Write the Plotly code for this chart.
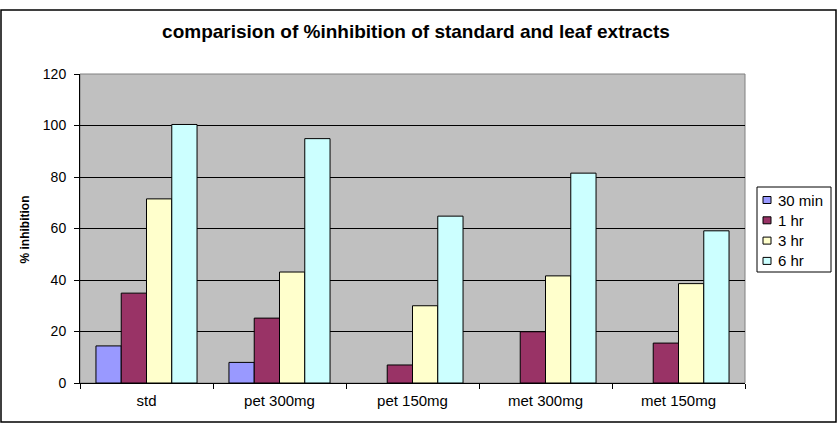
import plotly.graph_objects as go

categories = ["std", "pet 300mg", "pet 150mg", "met 300mg", "met 150mg"]
series_names = ["30 min", "1 hr", "3 hr", "6 hr"]
vals_30min = [14.4, 8.0, None, None, None]
vals_1hr = [34.9, 25.2, 7.0, 19.9, 15.5]
vals_3hr = [71.5, 43.1, 30.0, 41.6, 38.6]
vals_6hr = [100.4, 94.9, 64.8, 81.5, 59.1]
colors = ["#9999FF", "#993366", "#FFFFCC", "#CCFFFF"]
y_ticks = [0, 20, 40, 60, 80, 100, 120]

fig = go.Figure()
for name, vals, col in zip(series_names, [vals_30min, vals_1hr, vals_3hr, vals_6hr], colors):
    fig.add_trace(go.Bar(x=categories, y=vals, name=name, showlegend=False,
                         marker=dict(color=col, line=dict(color="black", width=1))))

L, R, T, B = 80, 95, 74, 43
W, H = 840, 426
pw, ph = W - L - R, H - T - B

def px2x(x):
    return (x - L) / pw

def px2y(y):
    return (H - B - y) / ph

FONT = "Arial, Liberation Sans"
fig.update_layout(
    width=W, height=H,
    margin=dict(l=L, r=R, t=T, b=B),
    paper_bgcolor="white",
    plot_bgcolor="#C0C0C0",
    barmode="group", bargap=0.24, bargroupgap=0,
    font=dict(family=FONT, size=14, color="black"),
    title=dict(text="<b>comparision of %inhibition of standard and leaf extracts</b>",
               x=416 / W, xanchor="center", y=1 - 31 / H, yanchor="middle",
               font=dict(size=19, family=FONT, color="black")),
    showlegend=False,
)
fig.update_xaxes(showline=True, linecolor="black", linewidth=1, ticks="outside",
                 tickson="boundaries", ticklen=5, tickcolor="black", showgrid=False,
                 tickfont=dict(size=15), ticklabelstandoff=4)
fig.update_yaxes(range=[0, 120], tickvals=y_ticks, showline=True, linecolor="black",
                 linewidth=1, ticks="outside", ticklen=5, tickcolor="black",
                 showgrid=True, gridcolor="black", gridwidth=1, zeroline=False,
                 tickfont=dict(size=14), ticklabelstandoff=5)
# y-axis title
fig.add_annotation(text="<b>% inhibition</b>", xref="paper", yref="paper",
                   x=px2x(24.5), y=px2y(230), textangle=-90, showarrow=False,
                   xanchor="center", yanchor="middle", font=dict(size=12, family=FONT))
# plot area gray border
fig.add_shape(type="rect", xref="paper", yref="paper", x0=0, x1=1, y0=0, y1=1,
              line=dict(color="#808080", width=1), layer="below")
# figure border
fig.add_shape(type="rect", xref="paper", yref="paper",
              x0=px2x(1), x1=px2x(836), y0=px2y(422), y1=px2y(10),
              line=dict(color="black", width=1.5))
# custom legend (Excel style)
fig.add_shape(type="rect", xref="paper", yref="paper",
              x0=px2x(757), x1=px2x(831), y0=px2y(272), y1=px2y(187),
              line=dict(color="black", width=1), fillcolor="white")
for i, (name, col) in enumerate(zip(series_names, colors)):
    yc = 200 + i * 20.3
    fig.add_shape(type="rect", xref="paper", yref="paper",
                  x0=px2x(763), x1=px2x(771), y0=px2y(yc + 3.5), y1=px2y(yc - 3.5),
                  line=dict(color="black", width=1), fillcolor=col)
    fig.add_annotation(text=name, xref="paper", yref="paper", x=px2x(775.5), y=px2y(yc),
                       xanchor="left", yanchor="middle", showarrow=False,
                       font=dict(size=15, family=FONT))
fig.write_html("out.html")
